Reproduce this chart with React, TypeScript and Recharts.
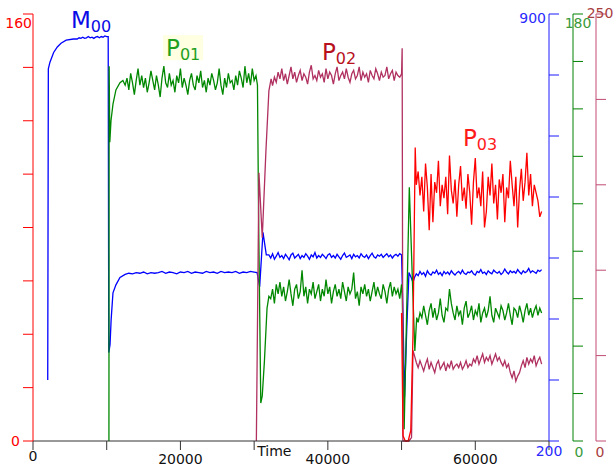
import { LineChart, Line, XAxis, YAxis, ReferenceDot } from "recharts";

const FONT = "DejaVu Sans, sans-serif";

// x axis (time)
const timeTicks = [0, 10000, 20000, 30000, 40000, 50000, 60000, 70000];
const timeLabels = [0, 20000, 40000, 60000];

// y axes
const redTicks = [0, 20, 40, 60, 80, 100, 120, 140, 160];
const blueTicks = [200, 300, 400, 500, 600, 700, 800, 900];
const greenTicks = [0, 20, 40, 60, 80, 100, 120, 140, 160, 180];
const maroonTicks = [0, 50, 100, 150, 200, 250];

// M00 (blue, right axis 200-900)
const m00RiseT = [2000, 2080, 2300, 2800, 3300, 3800, 4500, 5500];
const m00RiseV = [300, 810, 821, 837, 846, 852, 857, 859];
const m00PlateauA = [859, 861, 860, 862, 860, 861, 863, 861, 862, 860, 862, 863, 861, 863, 862, 864, 863]; // 6000.. step 250
const m00DropT = [10200, 10280, 10450, 10600, 10850, 11250, 11800];
const m00DropV = [863, 345, 358, 399, 443, 456, 468];
const m00PlateauB = [
  473, 475, 474, 476, 475, 477, 474, 476, 475, 476, 478, 475, 477, 476, 474, 477, 476, 478, 475, 477,
  476, 475, 478, 476, 477, 475, 478, 476, 477, 476, 478, 475, 477, 476, 478, 477,
]; // 12500.. step 500
const m00SwitchT = [30400, 30750, 31200, 31650];
const m00SwitchV = [476, 453, 542, 505];
const m00PlateauC = [
  505, 500, 507, 498, 503, 509, 501, 504, 499, 506, 502, 497, 505, 508, 500, 503, 506, 499, 504, 501,
  507, 503, 498, 505, 502, 509, 500, 504, 501, 506, 503, 499, 505, 507, 501, 504, 500, 506, 502, 498,
  504, 508, 501, 503, 505, 499, 506, 502, 504, 500, 507, 503, 501, 505, 499, 504, 508, 502, 500, 505,
  503, 506, 501, 504, 507, 502, 505, 500, 504, 506, 503, 507, 505,
]; // 32000.. step 250
const m00Switch2T = [50150, 50400, 50700, 51000, 51300, 51550];
const m00Switch2V = [432, 272, 382, 476, 468, 460];
const m00PlateauD = [
  468, 474, 471, 478, 473, 476, 470, 479, 474, 472, 477, 475, 480, 473, 476, 471, 478, 474, 477, 473,
  479, 475, 472, 476, 478, 474, 480, 475, 473, 477, 476, 479, 474, 472, 478, 476, 481, 475, 477, 473,
  479, 476, 474, 480, 477, 475, 478, 473, 476, 482, 477, 474, 479, 476, 478, 475, 481, 477, 474, 479,
  476, 478, 483, 476, 479, 477, 475, 480, 478, 481,
]; // 51750.. step 250

// P01 (green, right axis 0-180)
const p01StartT = [10300, 10330, 10420, 10580, 10850, 11250, 11800, 12200];
const p01StartV = [0, 158, 126, 135, 142, 148, 151, 152];
const p01PlateauA = [
  150, 153, 148, 155, 151, 146, 152, 157, 150, 154, 149, 153, 147, 151, 156, 152, 148, 154, 150, 145,
  153, 158, 151, 149, 155, 150, 152, 147, 154, 151, 157, 149, 153, 150, 146, 152, 155, 150, 148, 154,
  151, 156, 149, 152, 147, 153, 150, 155, 152, 148, 151, 157, 150, 146, 153, 149, 155, 151, 152, 148,
  154, 150, 156, 153, 149, 158, 151, 155, 150, 157, 152, 154,
]; // 12500.. step 250
const p01SwitchT = [30450, 30600, 30900, 31100, 31400, 31750, 32000];
const p01SwitchV = [150, 96, 16, 19, 34, 56, 61];
const p01PlateauB = [
  60, 64, 58, 66, 62, 67, 61, 65, 59, 63, 68, 62, 57, 64, 66, 60, 63, 72, 61, 65,
  58, 64, 62, 67, 60, 63, 66, 59, 64, 61, 68, 62, 65, 58, 63, 66, 61, 64, 60, 67,
  63, 59, 65, 62, 64, 71, 60, 63, 57, 65, 62, 66, 61, 64, 59, 63, 67, 61, 65, 62,
  60, 66, 63, 58, 64, 67, 61, 65, 62, 64, 60, 66,
]; // 32250.. step 250
const p01Switch2T = [50100, 50350, 51050, 51500, 51800, 52050];
const p01Switch2V = [60, 5, 107, 65, 38, 52];
const p01PlateauC = [
  50, 54, 52, 57, 53, 49, 55, 58, 52, 56, 51, 54, 60, 53, 50, 56, 55, 64, 58, 54,
  51, 57, 53, 55, 49, 56, 59, 52, 54, 57, 51, 55, 53, 58, 50, 54, 56, 52, 55, 61,
  53, 50, 56, 54, 52, 57, 55, 51, 54, 58, 53, 49, 56, 55, 52, 57, 54, 50, 55, 58,
  53, 56, 52, 55, 57, 53, 56, 54,
]; // 52250.. step 250

// P02 (maroon, right axis 0-250)
const p02StartT = [30300, 30650, 31100, 31600, 32000, 32300];
const p02StartV = [0, 157, 119, 170, 205, 212];
const p02PlateauA = [
  208, 213, 210, 216, 212, 218, 211, 215, 209, 214, 219, 212, 216, 210, 214, 217, 211, 215, 213, 209,
  216, 220, 212, 214, 211, 217, 213, 215, 210, 218, 212, 216, 214, 209, 215, 219, 211, 214, 216, 212,
  218, 213, 210, 215, 217, 212, 214, 219, 211, 216, 213, 215, 210, 217, 214, 212, 218, 215, 211, 216,
  213, 214, 219, 212, 215, 217, 211, 216, 214, 213, 215,
]; // 32500.. step 250
const p02SwitchT = [50080, 50180, 50500, 51000, 51350, 51550];
const p02SwitchV = [230, 0, 0, 0, 2, 53];
const p02PlateauB = [
  50, 46, 43, 47, 44, 41, 45, 48, 42, 46, 43, 40, 45, 47, 42, 44, 46, 41, 45, 43,
  47, 42, 44, 45, 43, 46, 42, 44, 47, 43, 45, 44, 48, 46, 50, 45, 48, 51, 46, 49,
  47, 50, 45, 48, 51, 47, 49, 46, 44, 47, 43, 45, 40, 37, 41, 35, 38, 40, 44, 47,
  43, 49, 45, 48, 46, 50, 44, 47, 49, 45,
]; // 51750.. step 250

// P03 (red, left axis 0-160)
const p03StartT = [50000, 50200, 50500, 50900, 51250, 51550, 51850];
const p03StartV = [48, 2, 0, 0, 4, 40, 110];
const p03Plateau = [
  96, 101, 92, 99, 86, 104, 95, 79, 100, 82, 97, 93, 105, 88, 96, 91, 99, 85, 107, 94,
  89, 98, 84, 96, 103, 90, 95, 87, 100, 93, 81, 97, 106, 91, 95, 88, 101, 80, 86, 99,
  92, 104, 89, 96, 83, 98, 93, 100, 82, 95, 91, 105, 96, 88, 99, 80, 94, 102, 90, 97,
  108, 92, 100, 88, 96, 93, 90, 84, 86,
]; // 52000.. step 250

// series tags
const tagMain = ["M", "P", "P", "P"];
const tagSub = ["00", "01", "02", "03"];
const tagColors = ["#0a0ae6", "#1fa01f", "#b8101c", "#ff1a1a"];
const tagTimes = [5150, 18050, 39200, 58330];
const tagLevels = [154.7, 144.2, 142.7, 110.5];

const pairs = (ts: number[], vs: number[]) => ts.map((t, i) => ({ t, v: vs[i] }));
const run = (start: number, step: number, vs: number[]) => vs.map((v, i) => ({ t: start + i * step, v }));

const m00Data = [
  ...pairs(m00RiseT, m00RiseV),
  ...run(6000, 250, m00PlateauA),
  ...pairs(m00DropT, m00DropV),
  ...run(12500, 500, m00PlateauB),
  ...pairs(m00SwitchT, m00SwitchV),
  ...run(32000, 250, m00PlateauC),
  ...pairs(m00Switch2T, m00Switch2V),
  ...run(51750, 250, m00PlateauD),
];
const p01Data = [
  ...pairs(p01StartT, p01StartV),
  ...run(12500, 250, p01PlateauA),
  ...pairs(p01SwitchT, p01SwitchV),
  ...run(32250, 250, p01PlateauB),
  ...pairs(p01Switch2T, p01Switch2V),
  ...run(52250, 250, p01PlateauC),
];
const p02Data = [
  ...pairs(p02StartT, p02StartV),
  ...run(32500, 250, p02PlateauA),
  ...pairs(p02SwitchT, p02SwitchV),
  ...run(51750, 250, p02PlateauB),
];
const p03Data = [...pairs(p03StartT, p03StartV), ...run(52000, 250, p03Plateau)];

type EdgeLabel = { dx: number; dy: number; anchor: "start" | "middle" | "end" };

// only the end values of each axis carry a label
const edgeTick = (color: string, labels: Record<number, EdgeLabel>) => (props: any) => {
  const spec = labels[props.payload.value];
  if (!spec) return <g />;
  return (
    <text x={props.x + spec.dx} y={props.y + spec.dy} textAnchor={spec.anchor} fill={color} fontSize={14} fontFamily={FONT}>
      {props.payload.value}
    </text>
  );
};

const timeTick = (props: any) => {
  const v = props.payload.value;
  if (v === 30000)
    return (
      <text x={props.x + 3} y={props.y + 6} fill="#111" fontSize={14} fontFamily={FONT}>
        Time
      </text>
    );
  if (!timeLabels.includes(v)) return <g />;
  return (
    <text x={props.x} y={props.y + (v === 0 ? 11 : 14)} textAnchor="middle" fill="#111" fontSize={14} fontFamily={FONT}>
      {v}
    </text>
  );
};

const SeriesTag = ({ cx, cy, i }: { cx: number; cy: number; i: number }) => (
  <g>
    {i === 1 && <rect x={cx - 3} y={cy - 21} width={40} height={25} fill="#ffffe2" />}
    <text x={cx} y={cy} fill={tagColors[i]} fontFamily={FONT}>
      <tspan fontSize={23}>{tagMain[i]}</tspan>
      <tspan fontSize={16} dy={4}>
        {tagSub[i]}
      </tspan>
    </text>
  </g>
);

export default function App() {
  return (
    <div style={{ position: "absolute", left: 0, top: 0, background: "#fff" }}>
      <LineChart width={615} height={468} margin={{ top: 14, right: 0, bottom: 0, left: 0 }}>
        <XAxis
          type="number"
          dataKey="t"
          domain={[0, 70000]}
          ticks={timeTicks}
          interval={0}
          height={27}
          tickSize={9}
          tickMargin={0}
          stroke="#333"
          tick={timeTick}
        />
        <YAxis
          yAxisId="red"
          orientation="left"
          width={33}
          domain={[0, 160]}
          ticks={redTicks}
          interval={0}
          tickSize={10}
          tickMargin={0}
          stroke="#ff0000"
          tick={edgeTick("#ff0000", { 160: { dx: 9, dy: 14, anchor: "end" }, 0: { dx: -3, dy: 5, anchor: "end" } })}
        />
        <YAxis
          yAxisId="blue"
          orientation="right"
          width={24}
          domain={[200, 900]}
          ticks={blueTicks}
          interval={0}
          tickSize={10}
          tickMargin={0}
          stroke="#1a1aff"
          tick={edgeTick("#2a2aff", { 900: { dx: -13, dy: 9, anchor: "end" }, 200: { dx: -10, dy: 15, anchor: "middle" } })}
        />
        <YAxis
          yAxisId="green"
          orientation="right"
          width={23}
          domain={[0, 180]}
          ticks={greenTicks}
          interval={0}
          tickSize={10}
          tickMargin={0}
          stroke="#008000"
          tick={edgeTick("#3a9a3a", { 180: { dx: -5, dy: 14, anchor: "middle" }, 0: { dx: -4, dy: 16, anchor: "middle" } })}
        />
        <YAxis
          yAxisId="maroon"
          orientation="right"
          width={19}
          domain={[0, 250]}
          ticks={maroonTicks}
          interval={0}
          tickSize={10}
          tickMargin={0}
          stroke="#c04a72"
          tick={edgeTick("#a84040", { 250: { dx: -6, dy: 4, anchor: "middle" }, 0: { dx: -6, dy: 16, anchor: "middle" } })}
        />
        <Line data={m00Data} dataKey="v" yAxisId="blue" type="linear" stroke="#0000ff" strokeWidth={1.3} dot={false} isAnimationActive={false} />
        <Line data={p01Data} dataKey="v" yAxisId="green" type="linear" stroke="#008800" strokeWidth={1.3} dot={false} isAnimationActive={false} />
        <Line data={p02Data} dataKey="v" yAxisId="maroon" type="linear" stroke="#b03060" strokeWidth={1.3} dot={false} isAnimationActive={false} />
        <Line data={p03Data} dataKey="v" yAxisId="red" type="linear" stroke="#ff0000" strokeWidth={1.3} dot={false} isAnimationActive={false} />
        {tagMain.map((_, i) => (
          <ReferenceDot
            key={i}
            x={tagTimes[i]}
            y={tagLevels[i]}
            yAxisId="red"
            r={0}
            shape={(p: any) => <SeriesTag cx={p.cx} cy={p.cy} i={i} />}
          />
        ))}
      </LineChart>
    </div>
  );
}
